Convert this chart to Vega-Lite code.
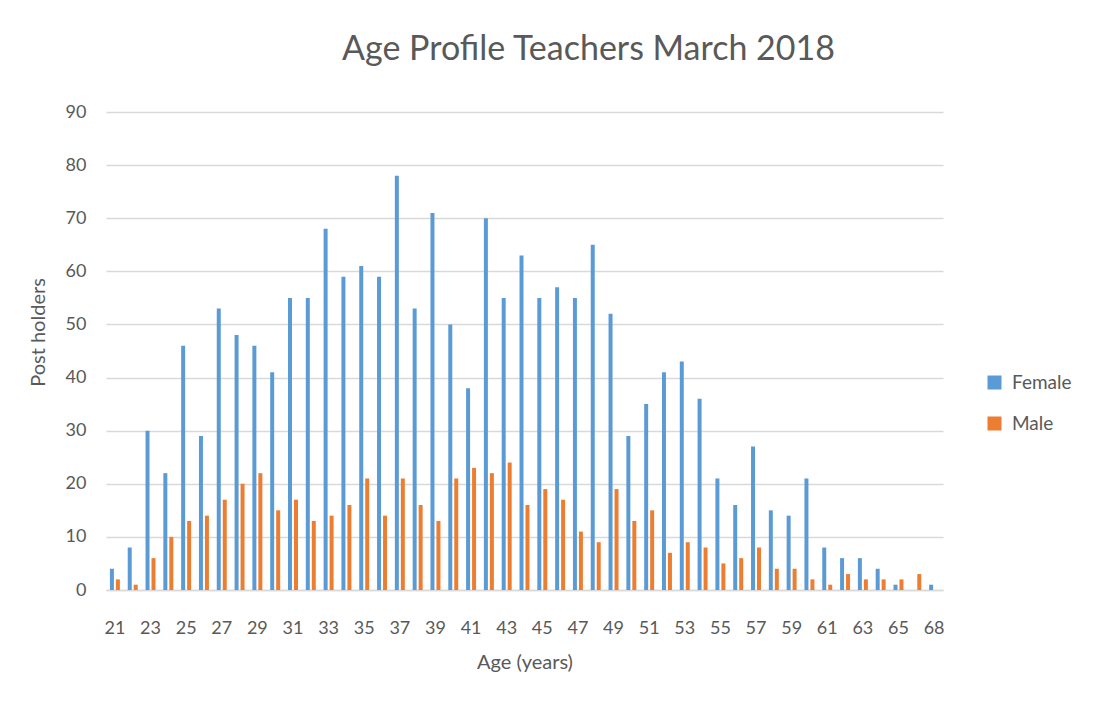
{
  "$schema": "https://vega.github.io/schema/vega-lite/v6.json",
  "width": 837,
  "height": 478,
  "autosize": "none",
  "padding": {"left": 106, "top": 112, "right": 167, "bottom": 116},
  "background": "white",
  "title": {
    "text": "Age Profile Teachers March 2018",
    "font": "Lato",
    "fontWeight": "normal",
    "fontSize": 34,
    "color": "#595959",
    "anchor": "middle",
    "dx": 64,
    "offset": 36
  },
  "data": {
    "values": [
      {"age": 21, "Female": 4, "Male": 2},
      {"age": 22, "Female": 8, "Male": 1},
      {"age": 23, "Female": 30, "Male": 6},
      {"age": 24, "Female": 22, "Male": 10},
      {"age": 25, "Female": 46, "Male": 13},
      {"age": 26, "Female": 29, "Male": 14},
      {"age": 27, "Female": 53, "Male": 17},
      {"age": 28, "Female": 48, "Male": 20},
      {"age": 29, "Female": 46, "Male": 22},
      {"age": 30, "Female": 41, "Male": 15},
      {"age": 31, "Female": 55, "Male": 17},
      {"age": 32, "Female": 55, "Male": 13},
      {"age": 33, "Female": 68, "Male": 14},
      {"age": 34, "Female": 59, "Male": 16},
      {"age": 35, "Female": 61, "Male": 21},
      {"age": 36, "Female": 59, "Male": 14},
      {"age": 37, "Female": 78, "Male": 21},
      {"age": 38, "Female": 53, "Male": 16},
      {"age": 39, "Female": 71, "Male": 13},
      {"age": 40, "Female": 50, "Male": 21},
      {"age": 41, "Female": 38, "Male": 23},
      {"age": 42, "Female": 70, "Male": 22},
      {"age": 43, "Female": 55, "Male": 24},
      {"age": 44, "Female": 63, "Male": 16},
      {"age": 45, "Female": 55, "Male": 19},
      {"age": 46, "Female": 57, "Male": 17},
      {"age": 47, "Female": 55, "Male": 11},
      {"age": 48, "Female": 65, "Male": 9},
      {"age": 49, "Female": 52, "Male": 19},
      {"age": 50, "Female": 29, "Male": 13},
      {"age": 51, "Female": 35, "Male": 15},
      {"age": 52, "Female": 41, "Male": 7},
      {"age": 53, "Female": 43, "Male": 9},
      {"age": 54, "Female": 36, "Male": 8},
      {"age": 55, "Female": 21, "Male": 5},
      {"age": 56, "Female": 16, "Male": 6},
      {"age": 57, "Female": 27, "Male": 8},
      {"age": 58, "Female": 15, "Male": 4},
      {"age": 59, "Female": 14, "Male": 4},
      {"age": 60, "Female": 21, "Male": 2},
      {"age": 61, "Female": 8, "Male": 1},
      {"age": 62, "Female": 6, "Male": 3},
      {"age": 63, "Female": 6, "Male": 2},
      {"age": 64, "Female": 4, "Male": 2},
      {"age": 65, "Female": 1, "Male": 2},
      {"age": 66, "Female": 0, "Male": 3},
      {"age": 68, "Female": 1, "Male": 0}
    ]
  },
  "transform": [{"fold": ["Female", "Male"], "as": ["sex", "count"]}],
  "mark": {"type": "bar"},
  "encoding": {
    "x": {
      "field": "age",
      "type": "ordinal",
      "title": "Age (years)",
      "scale": {"paddingInner": 0.44, "paddingOuter": 0.22},
      "axis": {
        "values": [21, 23, 25, 27, 29, 31, 33, 35, 37, 39, 41, 43, 45, 47, 49, 51, 53, 55, 57, 59, 61, 63, 65, 68],
        "labelAngle": 0,
        "labelFont": "Lato",
        "labelFontSize": 18,
        "labelColor": "#595959",
        "labelPadding": 29,
        "ticks": false,
        "domainColor": "#d9d9d9",
        "domainWidth": 1.5,
        "titleFont": "Lato",
        "titleFontSize": 20,
        "titleFontWeight": "normal",
        "titleColor": "#595959",
        "titlePadding": 15
      }
    },
    "xOffset": {
      "field": "sex",
      "type": "nominal",
      "sort": ["Female", "Male"],
      "scale": {"paddingInner": 0.333, "paddingOuter": 0}
    },
    "y": {
      "field": "count",
      "type": "quantitative",
      "title": "Post holders",
      "scale": {"domain": [0, 90], "nice": false},
      "axis": {
        "values": [0, 10, 20, 30, 40, 50, 60, 70, 80, 90],
        "domain": false,
        "ticks": false,
        "gridColor": "#d9d9d9",
        "gridWidth": 1.5,
        "labelFont": "Lato",
        "labelFontSize": 18,
        "labelColor": "#595959",
        "labelPadding": 20,
        "titleFont": "Lato",
        "titleFontSize": 20,
        "titleFontWeight": "normal",
        "titleColor": "#595959",
        "titlePadding": 17,
        "titleY": 220
      }
    },
    "color": {
      "field": "sex",
      "type": "nominal",
      "sort": ["Female", "Male"],
      "scale": {"domain": ["Female", "Male"], "range": ["#5B9BD5", "#ED7D31"]},
      "legend": {
        "title": null,
        "orient": "none",
        "legendX": 879,
        "legendY": 261,
        "symbolType": "square",
        "symbolSize": 196,
        "symbolStrokeWidth": 0,
        "labelFont": "Lato",
        "labelFontSize": 19,
        "labelColor": "#595959",
        "labelOffset": 8,
        "rowPadding": 21
      }
    }
  },
  "config": {"view": {"stroke": null}}
}
